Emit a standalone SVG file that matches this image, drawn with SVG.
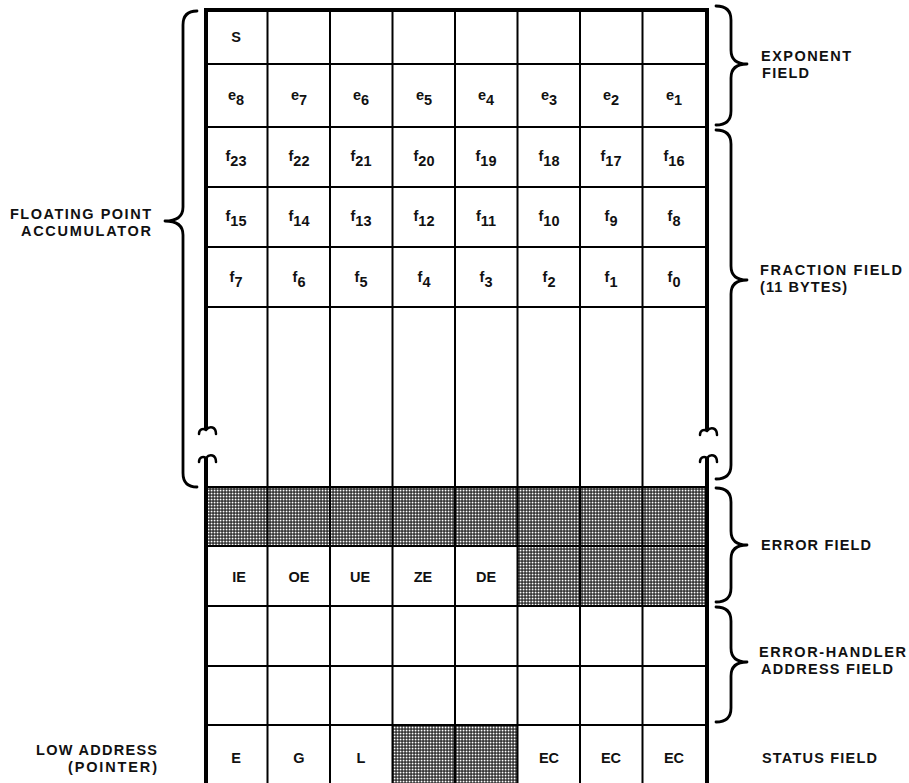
<svg xmlns="http://www.w3.org/2000/svg" width="909" height="783" viewBox="0 0 909 783">
<style>
.bg{fill:#fff}
.ln{stroke:#000;stroke-width:2;fill:none}
.bd{stroke:#000;stroke-width:4;fill:none}
.br{stroke:#000;stroke-width:2.8;fill:none;stroke-linecap:round;stroke-linejoin:round}
.sq{stroke:#000;stroke-width:2.5;fill:none;stroke-linecap:round}
.lbl{font-family:"Liberation Sans",Arial,sans-serif;font-weight:bold;font-size:14.5px;fill:#111}
.c{font-family:"Liberation Sans",Arial,sans-serif;font-weight:bold;font-size:14.5px;fill:#111;text-anchor:middle}
</style>
<defs>
<pattern id="hatch" width="3" height="3" patternUnits="userSpaceOnUse">
<rect width="3" height="3" fill="#111"/>
<rect x="0.6" y="0.6" width="1.9" height="1.9" fill="#fff"/>
</pattern>
</defs>
<rect class="bg" width="909" height="783"/>

<g id="hatched">
<rect x="205" y="487" width="501" height="59" fill="url(#hatch)"/>
<rect x="517.5" y="546" width="188.5" height="60" fill="url(#hatch)"/>
<rect x="392.5" y="725" width="125" height="58" fill="url(#hatch)"/>
</g>

<g id="grid">
<path class="ln" d="M267.5 10V783M330 10V783M392.5 10V783M455 10V783M517.5 10V783M580 10V783M642.5 10V783"/>
<path class="ln" d="M205 64H707M205 127H707M205 187H707M205 247H707M205 307H707M205 487H707M205 546H707M205 606H707M205 666H707M205 725H707"/>
<path class="bd" d="M206 430V10H707V431M206 458V783M707 458V783"/>
<path class="sq" d="M206 430C203 428 199 429 199 434M206 430C210 425 216 427 216 434"/>
<path class="sq" d="M206 458C203 456 199 457 199 462M206 458C210 453 216 455 216 462"/>
<path class="sq" d="M707 431C704 429 700 430 700 435M707 431C711 426 717 428 717 435"/>
<path class="sq" d="M707 458C704 456 700 457 700 462M707 458C711 453 717 455 717 462"/>
</g>

<g id="cells">
<text class="c" x="236" y="42">S</text>
<text class="c" x="236" y="100">e<tspan dy="5">8</tspan></text>
<text class="c" x="299" y="100">e<tspan dy="5">7</tspan></text>
<text class="c" x="361" y="100">e<tspan dy="5">6</tspan></text>
<text class="c" x="424" y="100">e<tspan dy="5">5</tspan></text>
<text class="c" x="486" y="100">e<tspan dy="5">4</tspan></text>
<text class="c" x="549" y="100">e<tspan dy="5">3</tspan></text>
<text class="c" x="611" y="100">e<tspan dy="5">2</tspan></text>
<text class="c" x="674" y="100">e<tspan dy="5">1</tspan></text>

<text class="c" x="236" y="161">f<tspan dy="5">23</tspan></text>
<text class="c" x="299" y="161">f<tspan dy="5">22</tspan></text>
<text class="c" x="361" y="161">f<tspan dy="5">21</tspan></text>
<text class="c" x="424" y="161">f<tspan dy="5">20</tspan></text>
<text class="c" x="486" y="161">f<tspan dy="5">19</tspan></text>
<text class="c" x="549" y="161">f<tspan dy="5">18</tspan></text>
<text class="c" x="611" y="161">f<tspan dy="5">17</tspan></text>
<text class="c" x="674" y="161">f<tspan dy="5">16</tspan></text>

<text class="c" x="236" y="221">f<tspan dy="5">15</tspan></text>
<text class="c" x="299" y="221">f<tspan dy="5">14</tspan></text>
<text class="c" x="361" y="221">f<tspan dy="5">13</tspan></text>
<text class="c" x="424" y="221">f<tspan dy="5">12</tspan></text>
<text class="c" x="486" y="221">f<tspan dy="5">11</tspan></text>
<text class="c" x="549" y="221">f<tspan dy="5">10</tspan></text>
<text class="c" x="611" y="221">f<tspan dy="5">9</tspan></text>
<text class="c" x="674" y="221">f<tspan dy="5">8</tspan></text>

<text class="c" x="236" y="282">f<tspan dy="5">7</tspan></text>
<text class="c" x="299" y="282">f<tspan dy="5">6</tspan></text>
<text class="c" x="361" y="282">f<tspan dy="5">5</tspan></text>
<text class="c" x="424" y="282">f<tspan dy="5">4</tspan></text>
<text class="c" x="486" y="282">f<tspan dy="5">3</tspan></text>
<text class="c" x="549" y="282">f<tspan dy="5">2</tspan></text>
<text class="c" x="611" y="282">f<tspan dy="5">1</tspan></text>
<text class="c" x="674" y="282">f<tspan dy="5">0</tspan></text>

<text class="c" x="239" y="582">IE</text>
<text class="c" x="299" y="582">OE</text>
<text class="c" x="360" y="582">UE</text>
<text class="c" x="423" y="582">ZE</text>
<text class="c" x="486" y="582">DE</text>

<text class="c" x="236" y="763">E</text>
<text class="c" x="299" y="763">G</text>
<text class="c" x="361" y="763">L</text>
<text class="c" x="549" y="763">EC</text>
<text class="c" x="611" y="763">EC</text>
<text class="c" x="674" y="763">EC</text>
</g>

<g id="accumulator">
<path class="br" d="M197 11Q183 11 183 25L183 207Q183 221 165 221Q183 221 183 235L183 473Q183 487 197 487"/>
<text class="lbl" x="151" y="219" text-anchor="end" textLength="141" lengthAdjust="spacing">FLOATING POINT</text>
<text class="lbl" x="151" y="236" text-anchor="end" textLength="130" lengthAdjust="spacing">ACCUMULATOR</text>
</g>

<g id="exponent-field">
<path class="br" d="M716 6Q731 6 731 20L731 50Q731 64 747 64Q731 64 731 78L731 111Q731 125 716 125"/>
<text class="lbl" x="761" y="61" textLength="90" lengthAdjust="spacing">EXPONENT</text>
<text class="lbl" x="762" y="78" textLength="47" lengthAdjust="spacing">FIELD</text>
</g>

<g id="fraction-field">
<path class="br" d="M716 130Q731 130 731 144L731 266Q731 280 747 280Q731 280 731 294L731 465Q731 479 716 479"/>
<text class="lbl" x="760" y="275" textLength="142" lengthAdjust="spacing">FRACTION FIELD</text>
<text class="lbl" x="760" y="292" textLength="87" lengthAdjust="spacing">(11 BYTES)</text>
</g>

<g id="error-field">
<path class="br" d="M716 488Q731 488 731 502L731 531Q731 545 747 545Q731 545 731 559L731 588Q731 602 716 602"/>
<text class="lbl" x="761" y="550" textLength="110" lengthAdjust="spacing">ERROR FIELD</text>
</g>

<g id="error-handler-field">
<path class="br" d="M716 607Q731 607 731 621L731 648Q731 662 747 662Q731 662 731 676L731 708Q731 722 716 722"/>
<text class="lbl" x="759" y="657" textLength="147" lengthAdjust="spacing">ERROR-HANDLER</text>
<text class="lbl" x="761" y="674" textLength="132" lengthAdjust="spacing">ADDRESS FIELD</text>
</g>

<g id="status-field">
<text class="lbl" x="762" y="763" textLength="115" lengthAdjust="spacing">STATUS FIELD</text>
</g>

<g id="low-address">
<text class="lbl" x="157" y="755" text-anchor="end" textLength="121" lengthAdjust="spacing">LOW ADDRESS</text>
<text class="lbl" x="157" y="772" text-anchor="end" textLength="89" lengthAdjust="spacing">(POINTER)</text>
</g>
</svg>
